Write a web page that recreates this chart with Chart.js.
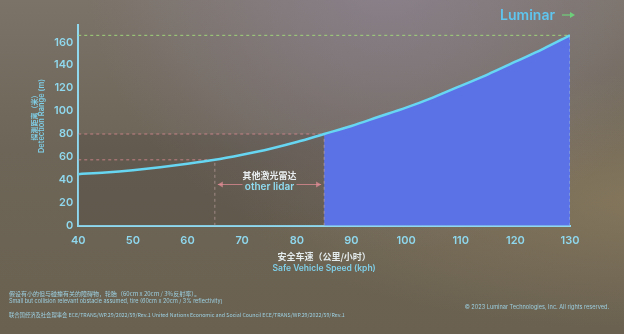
<!DOCTYPE html>
<html>
<head>
<meta charset="utf-8">
<script src="https://cdn.jsdelivr.net/npm/chart.js@4.4.1/dist/chart.umd.min.js"></script>
<style>
  html, body { margin: 0; padding: 0; }
  body {
    width: 624px; height: 334px; overflow: hidden;
    background:
      radial-gradient(ellipse at 62% -10%, rgba(150,140,170,0.55) 0%, rgba(150,140,170,0) 55%),
      radial-gradient(ellipse at 105% 60%, rgba(160,140,100,0.45) 0%, rgba(160,140,100,0) 45%),
      linear-gradient(180deg, #7b7368 0%, #6d6557 45%, #6a6150 100%);
  }
  #wrap { position: relative; width: 624px; height: 334px; }
</style>
</head>
<body>
<div id="wrap"><canvas id="chart" width="624" height="334"></canvas></div>
<script>
// safe vehicle speed (kph) and required detection range (m)
var speeds = [40, 45, 50, 55, 60, 65, 70, 75, 80, 85, 90, 95, 100, 105, 110, 115, 120, 125, 130];
var rangeM = [45, 46.5, 48.5, 51, 54, 57.5, 62, 67, 73, 80, 87, 95, 103, 112, 122, 132, 143, 154, 166];

// other lidar band and Luminar limit
var otherLidarSpeed = [65, 85];
var otherLidarRange = [57.5, 80];
var luminarSpeed = 130;
var luminarRange = 166;

var yTickValues = [0, 20, 40, 60, 80, 100, 120, 140, 160];

var cyan = '#66d6f2';
var pink = 'rgba(225,140,150,0.75)';

function pts(xs, ys) {
  return xs.map(function (x, i) { return { x: x, y: ys[i] }; });
}

var curve = pts(speeds, rangeM);
var luminarPart = curve.filter(function (p) { return p.x >= otherLidarSpeed[1]; });

var textPlugin = {
  id: 'texts',
  afterDraw: function (chart) {
    var ctx = chart.ctx;
    var xs = chart.scales.x, ys = chart.scales.y;
    var ca = chart.chartArea;
    ctx.save();
    ctx.textAlign = 'center';
    ctx.textBaseline = 'middle';

    // y axis title
    ctx.save();
    ctx.translate(34, 116);
    ctx.rotate(-Math.PI / 2);
    ctx.fillStyle = '#7fcfe8';
    ctx.font = 'bold 7px "Noto Sans CJK SC"';
    ctx.fillText('探测距离（米）', 0, 0);
    ctx.font = '600 7.5px Inter';
    ctx.fillText('Detection Range (m)', 0, 8);
    ctx.restore();

    // x axis title
    var cx = (ca.left + ca.right) / 2;
    ctx.fillStyle = '#e4ecee';
    ctx.font = 'bold 9px "Noto Sans CJK SC"';
    ctx.fillText('安全车速（公里/小时）', cx, 257);
    ctx.fillStyle = '#7fcfe8';
    ctx.font = '600 8.5px Inter';
    ctx.fillText('Safe Vehicle Speed (kph)', cx, 268);

    // other lidar arrow + label
    var ax1 = xs.getPixelForValue(otherLidarSpeed[0]) + 3;
    var ax2 = xs.getPixelForValue(otherLidarSpeed[1]) - 3;
    var ay = ys.getPixelForValue(36);
    ctx.strokeStyle = pink;
    ctx.fillStyle = pink;
    ctx.lineWidth = 1;
    ctx.beginPath();
    ctx.moveTo(ax1, ay); ctx.lineTo(ax2, ay); ctx.stroke();
    ctx.beginPath();
    ctx.moveTo(ax1, ay); ctx.lineTo(ax1 + 5, ay - 3); ctx.lineTo(ax1 + 5, ay + 3); ctx.fill();
    ctx.beginPath();
    ctx.moveTo(ax2, ay); ctx.lineTo(ax2 - 5, ay - 3); ctx.lineTo(ax2 - 5, ay + 3); ctx.fill();
    var mx = (ax1 + ax2) / 2;
    ctx.fillStyle = 'rgba(104,96,84,1)';
    ctx.fillRect(mx - 27, ay - 5, 54, 11);
    ctx.fillStyle = '#e8eef0';
    ctx.font = 'bold 9px "Noto Sans CJK SC"';
    ctx.fillText('其他激光雷达', mx, ay - 9);
    ctx.fillStyle = '#8fdcf2';
    ctx.font = '600 10px Inter';
    ctx.fillText('other lidar', mx, ay + 3);

    // Luminar label
    ctx.textAlign = 'right';
    ctx.fillStyle = '#5fc6ef';
    ctx.font = '600 14px Inter';
    ctx.fillText('Luminar', 555, 16);
    ctx.strokeStyle = '#6ecf7a';
    ctx.fillStyle = '#6ecf7a';
    ctx.lineWidth = 1.2;
    ctx.beginPath(); ctx.moveTo(562, 15); ctx.lineTo(573, 15); ctx.stroke();
    ctx.beginPath(); ctx.moveTo(575, 15); ctx.lineTo(570, 12); ctx.lineTo(570, 18); ctx.fill();

    // footnotes
    ctx.textAlign = 'left';
    ctx.fillStyle = '#9ccfe0';
    ctx.font = '6px "Noto Sans CJK SC"';
    ctx.fillText('假设有小的但与碰撞有关的障碍物，轮胎（60cm x 20cm / 3%反射率）。', 9, 294);
    ctx.font = '5.5px Inter';
    ctx.fillText('Small but collision relevant obstacle assumed, tire (60cm x 20cm / 3% reflectivity)', 9, 301);
    ctx.font = '5.3px "Noto Sans CJK SC"';
    ctx.fillText('联合国经济及社会理事会 ECE/TRANS/WP.29/2022/59/Rev.1 United Nations Economic and Social Council ECE/TRANS/WP.29/2022/59/Rev.1', 9, 315);
    ctx.textAlign = 'right';
    ctx.font = '5.6px Inter';
    ctx.fillText('© 2023 Luminar Technologies, Inc. All rights reserved.', 609, 307);
    ctx.restore();
  }
};

var dashed = function (data, color, order) {
  return {
    data: data, borderColor: color, borderWidth: 1, borderDash: [3, 3],
    pointRadius: 0, fill: false, order: order
  };
};

new Chart(document.getElementById('chart'), {
  type: 'line',
  data: {
    datasets: [
      {
        // Luminar curve
        data: curve, borderColor: cyan, borderWidth: 2.5,
        pointRadius: 0, cubicInterpolationMode: 'monotone', fill: false, order: 0
      },
      {
        // Luminar advantage area
        data: luminarPart, borderWidth: 0, backgroundColor: '#5b71e6',
        pointRadius: 0, cubicInterpolationMode: 'monotone', fill: 'origin', order: 5
      },
      {
        // shaded other lidar box
        data: pts([speeds[0], otherLidarSpeed[1]], [otherLidarRange[1], otherLidarRange[1]]),
        borderColor: pink, borderWidth: 1, borderDash: [3, 3], backgroundColor: 'rgba(45,40,35,0.16)',
        pointRadius: 0, fill: 'origin', order: 6
      },
      dashed(pts([speeds[0], otherLidarSpeed[0]], [otherLidarRange[0], otherLidarRange[0]]), pink, 3),
      dashed(pts([otherLidarSpeed[0], otherLidarSpeed[0]], [0, otherLidarRange[0]]), 'rgba(200,170,170,0.6)', 3),
      dashed(pts([otherLidarSpeed[1], otherLidarSpeed[1]], [0, otherLidarRange[1]]), 'rgba(200,170,170,0.6)', 3),
      dashed(pts([luminarSpeed, luminarSpeed], [0, luminarRange]), 'rgba(170,200,215,0.8)', 3),
      dashed(pts([speeds[0], luminarSpeed], [luminarRange, luminarRange]), '#9fd47a', 3)
    ]
  },
  options: {
    responsive: false,
    animation: false,
    layout: { padding: { left: 49, right: 54, top: 25, bottom: 79 } },
    plugins: { legend: { display: false }, tooltip: { enabled: false } },
    scales: {
      x: {
        type: 'linear', min: 40, max: 130,
        grid: { display: false, drawTicks: false },
        border: { display: true, color: '#8fd8ee', width: 2 },
        ticks: { stepSize: 10, color: '#8fd8ee', font: { family: 'Inter', size: 11, weight: '600' }, padding: 8 }
      },
      y: {
        min: 0, max: 175,
        grid: { display: false, drawTicks: false },
        border: { display: true, color: '#8fd8ee', width: 2 },
        afterBuildTicks: function (axis) {
          axis.ticks = yTickValues.map(function (v) { return { value: v }; });
        },
        ticks: { color: '#8fd8ee', font: { family: 'Inter', size: 11, weight: '600' }, padding: 5 }
      }
    }
  },
  plugins: [textPlugin]
});
</script>
</body>
</html>
